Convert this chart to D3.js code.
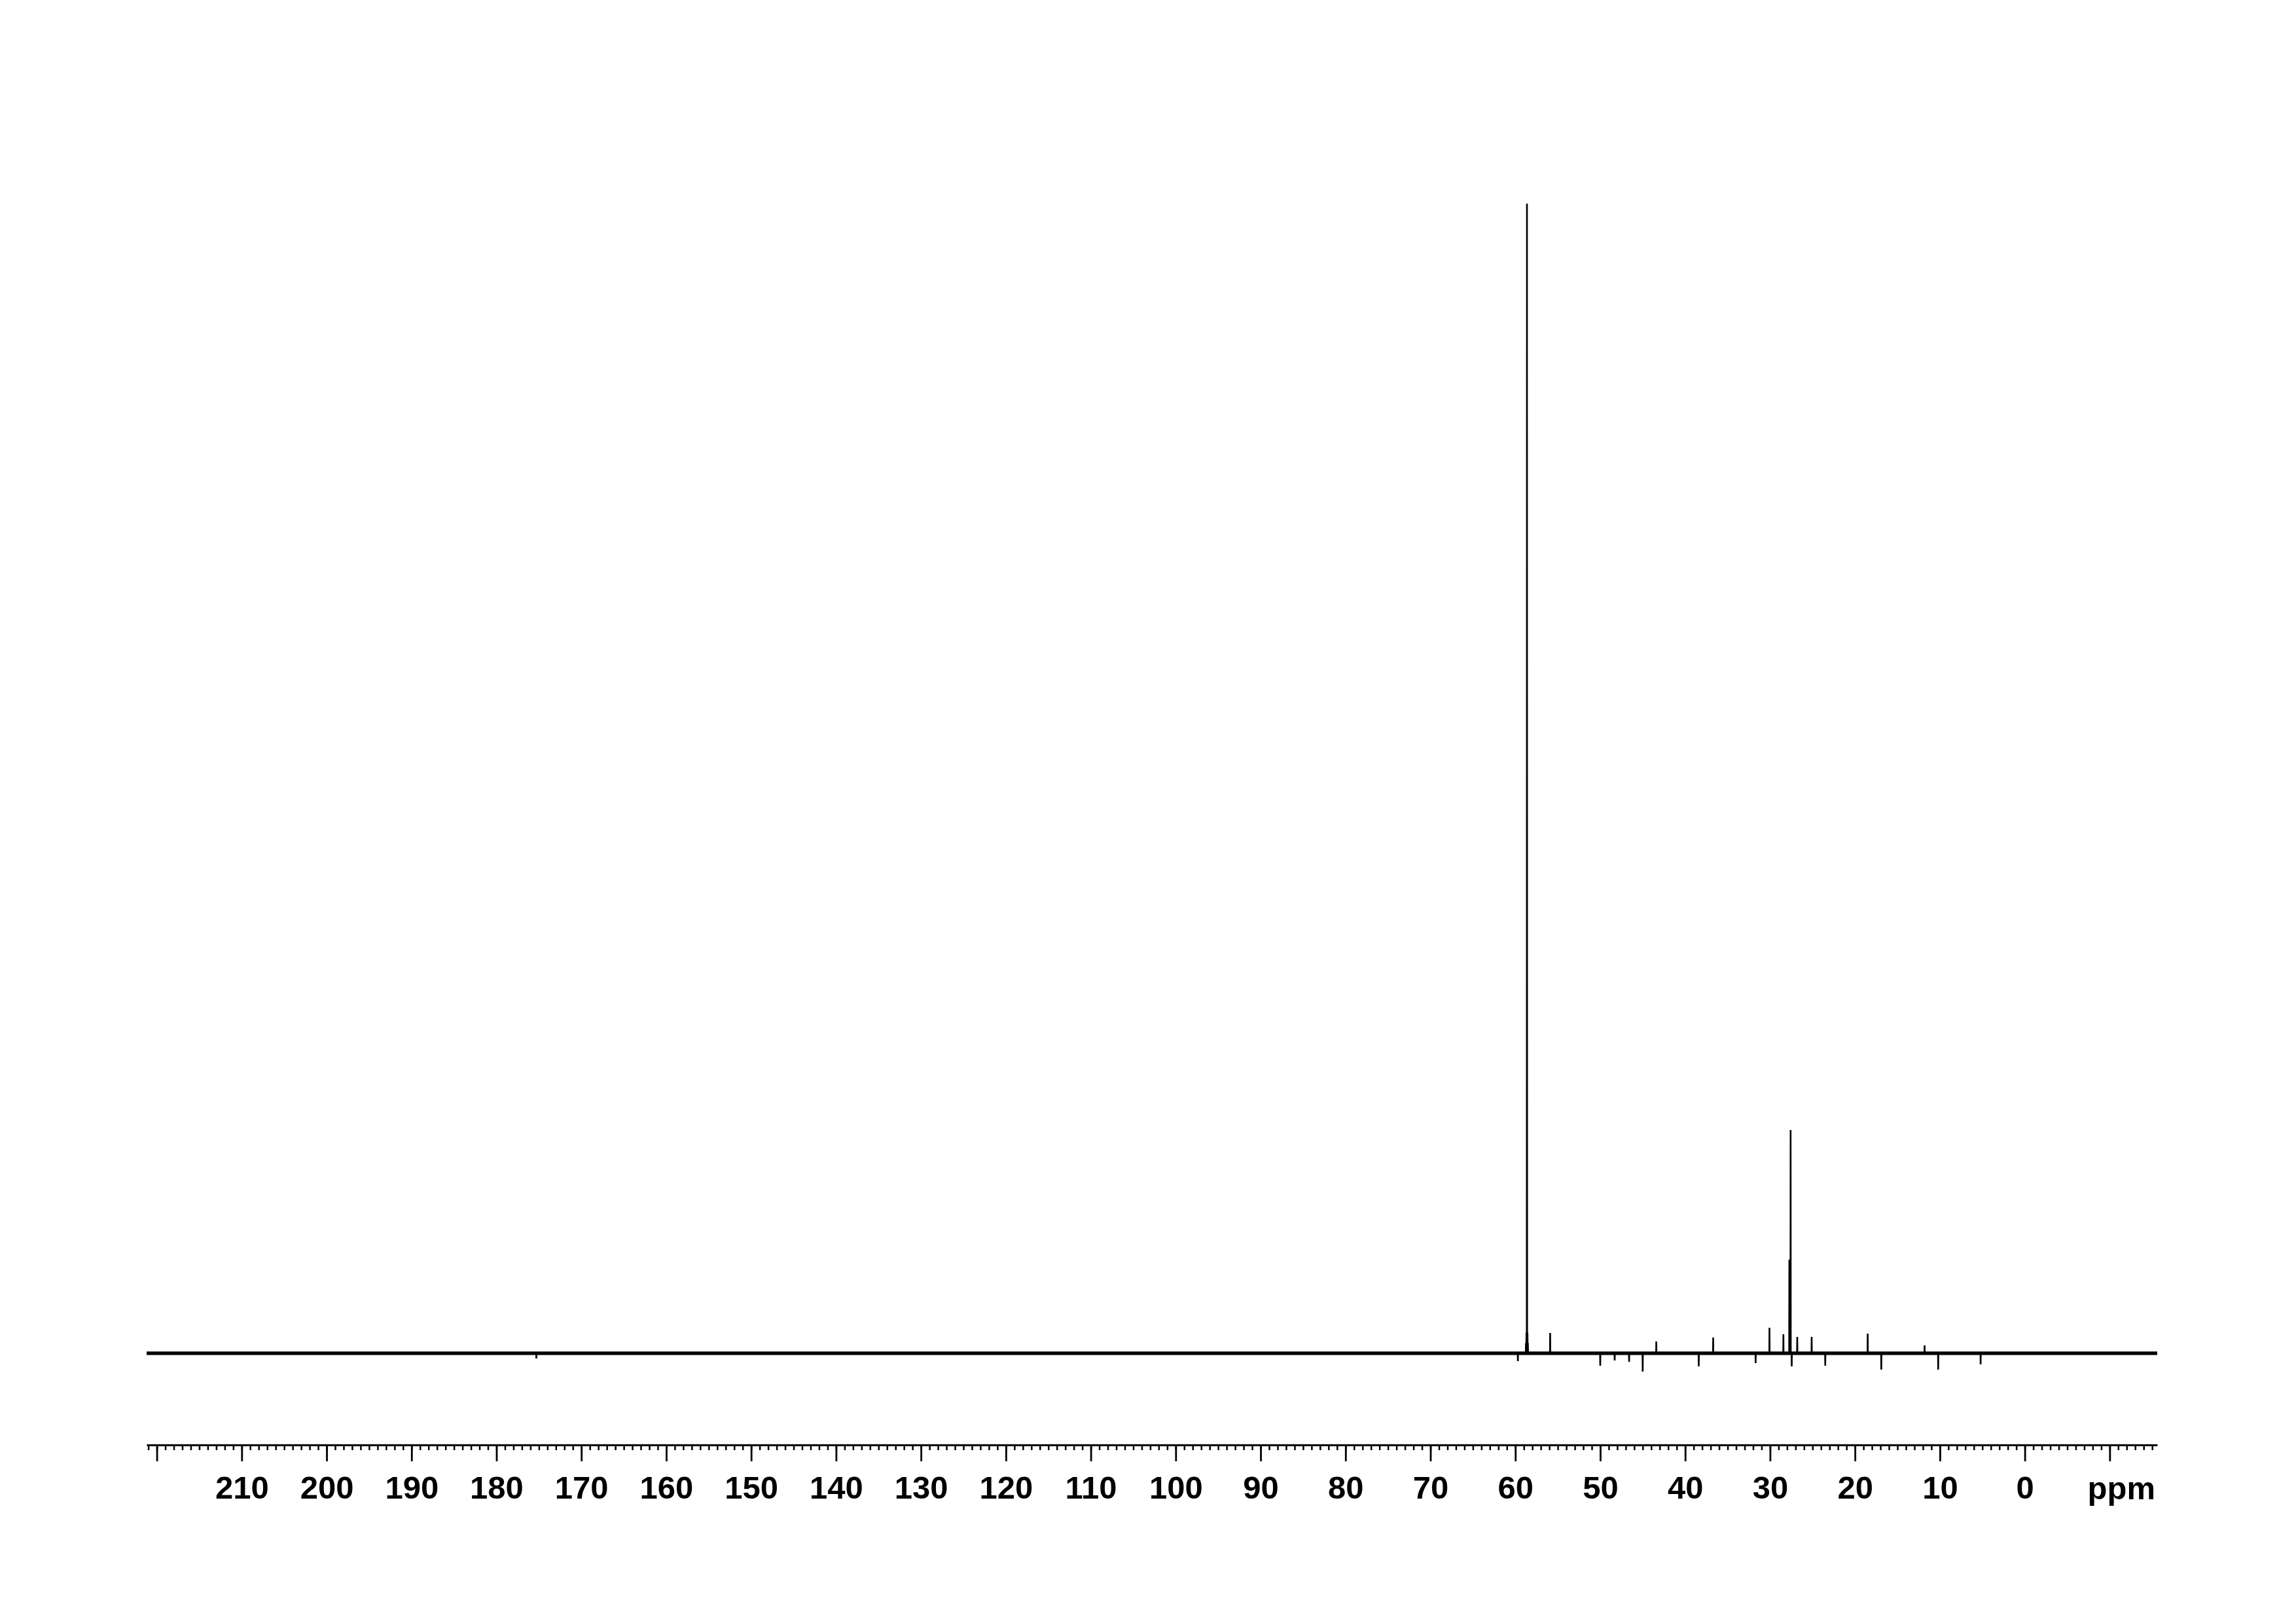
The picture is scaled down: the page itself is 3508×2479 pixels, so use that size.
<!DOCTYPE html>
<html>
<head>
<meta charset="utf-8">
<script src="https://cdn.jsdelivr.net/npm/d3@7"></script>
<style>
  html, body { margin: 0; padding: 0; background: #fff; }
  svg { display: block; }
  .tick text { font-family: "Liberation Sans", Arial, Helvetica, sans-serif; font-weight: bold; }
</style>
</head>
<body>
<svg id="chart" width="3508" height="2479"></svg>
<script>
// ---- data ----
// chemical shift axis (ppm), displayed reversed
const ppmDomain = [221.2, -15.6];
const majorTicks = [220, 210, 200, 190, 180, 170, 160, 150, 140, 130, 120, 110, 100, 90, 80, 70, 60, 50, 40, 30, 20, 10, 0, -10];
const tickLabels = ["", "210", "200", "190", "180", "170", "160", "150", "140", "130", "120", "110", "100", "90", "80", "70", "60", "50", "40", "30", "20", "10", "0", ""];
const minorTicks = d3.range(221, -16, -1);
const axisUnit = "ppm";

// peak positions (ppm) and intensities (relative, largest = 100)
const peakPpm = [175.3, 59.7, 58.75, 58.69, 58.63, 58.57, 58.52, 55.9, 50.0, 48.3, 46.6, 45.0, 43.4, 38.4, 36.7, 31.7, 30.07, 28.43, 27.73, 27.58, 27.45, 26.8, 25.1, 23.5, 18.5, 16.9, 11.8, 10.2, 5.2];
const peakInt = [-0.46, -0.68, 0.9, 1.8, 100, 1.8, 0.9, 1.77, -1.08, -0.63, -0.74, -1.6, 1.03, -1.14, 1.37, -0.85, 2.22, 1.65, 8.14, 19.42, -1.14, 1.42, 1.42, -1.08, 1.71, -1.42, 0.68, -1.42, -0.97];
const intDomain = [0, 100];

// ---- drawing ----
const svg = d3.select("#chart");
svg.append("rect").attr("width", 3508).attr("height", 2479).attr("fill", "#fff");

const x = d3.scaleLinear().domain(ppmDomain).range([224, 3296]);
const y = d3.scaleLinear().domain(intDomain).range([2067, 311]);

// baseline noise band
const line = d3.line().x(d => x(d[0])).y(d => y(d[1]));
svg.append("path")
  .datum([[ppmDomain[0], 0], [ppmDomain[1], 0]])
  .attr("d", line)
  .attr("fill", "none")
  .attr("stroke", "#111")
  .attr("stroke-width", 5.5);

// spectrum trace with peaks
const halfW = 0.02;
const pts = [[ppmDomain[0], 0]];
peakPpm.map((p, i) => ({p, h: peakInt[i]}))
  .sort((a, b) => b.p - a.p)
  .forEach(d => {
    pts.push([d.p + halfW, 0]);
    pts.push([d.p, d.h]);
    pts.push([d.p - halfW, 0]);
  });
pts.push([ppmDomain[1], 0]);
svg.append("path")
  .datum(pts)
  .attr("d", line)
  .attr("fill", "none")
  .attr("stroke", "#000")
  .attr("stroke-width", 2.6)
  .attr("stroke-linejoin", "miter");

// x axis
const axisY = 2207;
const minorAxis = d3.axisBottom(x).tickValues(minorTicks).tickSize(8).tickSizeOuter(0).tickFormat("");
const gMinor = svg.append("g").attr("transform", `translate(0,${axisY})`).call(minorAxis);
gMinor.select(".domain").remove();
gMinor.selectAll(".tick line").attr("stroke-width", 2.5).attr("stroke", "#000");

const majorAxis = d3.axisBottom(x).tickValues(majorTicks).tickSize(25).tickSizeOuter(0).tickPadding(22)
  .tickFormat((d, i) => tickLabels[i]);
const gMajor = svg.append("g").attr("transform", `translate(0,${axisY})`).call(majorAxis);
gMajor.select(".domain").attr("stroke-width", 3).attr("stroke", "#000");
gMajor.selectAll(".tick line").attr("stroke-width", 2.8).attr("stroke", "#000");
gMajor.selectAll(".tick text").attr("font-size", 49).attr("fill", "#000")
  .attr("font-family", "'Liberation Sans', Arial, Helvetica, sans-serif").attr("font-weight", "bold");

svg.append("text")
  .attr("x", x.range()[1] - 3)
  .attr("y", 2290)
  .attr("text-anchor", "end")
  .attr("font-family", "'Liberation Sans', Arial, Helvetica, sans-serif")
  .attr("font-weight", "bold")
  .attr("font-size", 49)
  .attr("fill", "#000")
  .text(axisUnit);
</script>
</body>
</html>
